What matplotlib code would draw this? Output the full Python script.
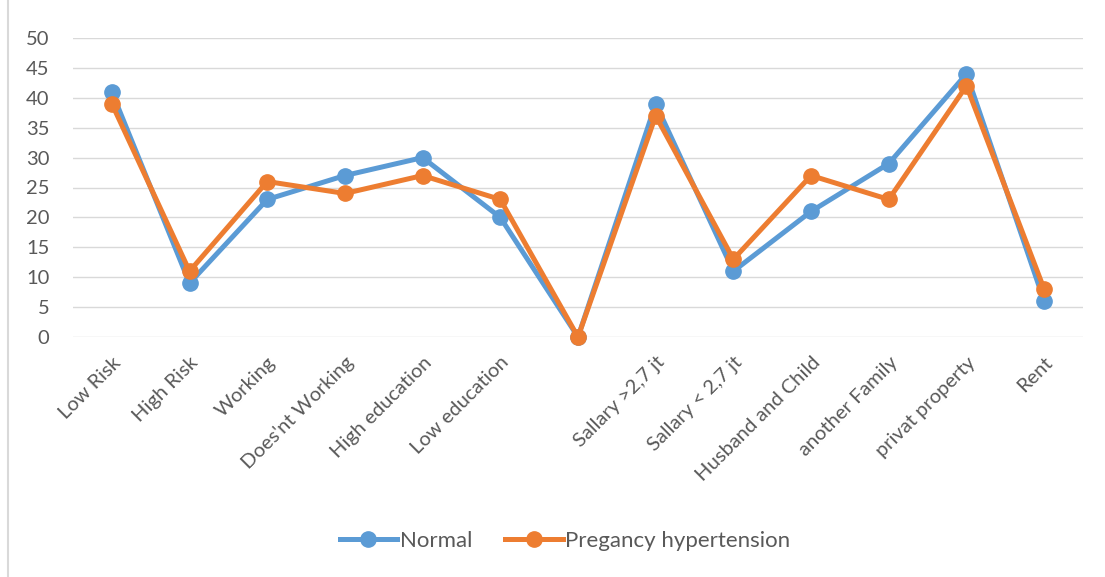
import matplotlib
matplotlib.use("Agg")
import matplotlib.pyplot as plt
from matplotlib.patches import Rectangle

categories = ["Low Risk", "High Risk", "Working", "Does'nt Working", "High education",
              "Low education", "", "Sallary >2,7 jt", "Sallary < 2,7 jt",
              "Husband and Child", "another Family", "privat property", "Rent"]
normal = [41, 9, 23, 27, 30, 20, 0, 39, 11, 21, 29, 44, 6]
pregancy = [39, 11, 26, 24, 27, 23, 0, 37, 13, 27, 23, 42, 8]
yticks = [0, 5, 10, 15, 20, 25, 30, 35, 40, 45, 50]

plt.rcParams['font.family'] = ['Lato', 'DejaVu Sans']
txt = '#595959'

fig = plt.figure(figsize=(11.05, 5.77), dpi=100)
ax = fig.add_axes([73/1105, 1-337/577, (1083-73)/1105, (337-38)/577])

x = list(range(len(categories)))
ax.plot(x, normal, color='#5B9BD5', lw=3.6, marker='o', ms=11, label='Normal', zorder=3)
ax.plot(x, pregancy, color='#ED7D31', lw=3.6, marker='o', ms=11, label='Pregancy hypertension', zorder=4)

ax.set_xlim(-0.5, len(categories) - 0.5)
ax.set_ylim(0, 50)
ax.set_yticks(yticks)
ax.set_yticklabels([str(v) for v in yticks], fontsize=14.5, color=txt)
ax.set_xticks(x)
ax.set_xticklabels(categories, rotation=45, ha='right', rotation_mode='anchor',
                   fontsize=14.5, color=txt)
ax.tick_params(axis='both', length=0)
ax.tick_params(axis='y', pad=17)
ax.tick_params(axis='x', pad=12)
ax.grid(axis='y', color='#D9D9D9', lw=1)
ax.set_axisbelow(True)
for s in ax.spines.values():
    s.set_visible(False)
for ln in ax.lines:
    ln.set_clip_on(False)

leg = fig.legend(loc='center', bbox_to_anchor=(565/1105, 1-541/577), ncol=2, frameon=False,
                 fontsize=16, handlelength=2.6, columnspacing=1.5, handletextpad=0.1)
for t in leg.get_texts():
    t.set_color(txt)

fig.patches.append(Rectangle((8/1105, -0.01), 1.1, 1.1, transform=fig.transFigure,
                             fill=False, edgecolor='#D9D9D9', lw=1.5))

fig.savefig('out.png', dpi=100)
